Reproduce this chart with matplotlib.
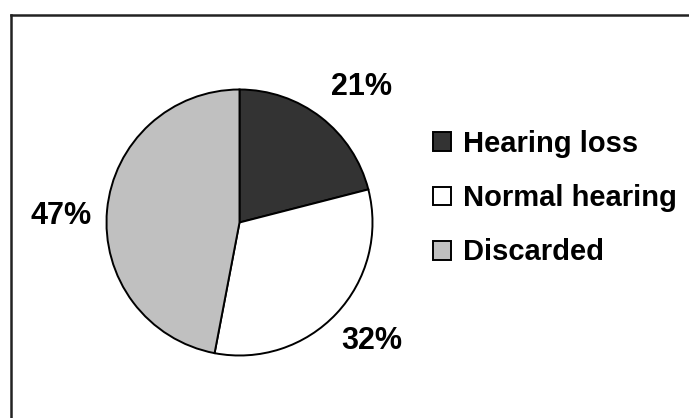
import matplotlib.pyplot as plt
from matplotlib.lines import Line2D

plt.rcParams['font.family'] = ['Liberation Sans', 'DejaVu Sans']

labels = ["Hearing loss", "Normal hearing", "Discarded"]
shares = [21, 32, 47]
colors = ["#333333", "#ffffff", "#c0c0c0"]

W, H = 689, 418
fig = plt.figure(figsize=(W / 100, H / 100), dpi=100)

# frame: only top and left edges show in the original
fig.add_artist(Line2D([10.5 / W, 10.5 / W], [0, 1 - 14.5 / H], transform=fig.transFigure,
                      color="#222222", lw=1.8))
fig.add_artist(Line2D([10.5 / W, 1], [1 - 14.5 / H, 1 - 14.5 / H], transform=fig.transFigure,
                      color="#222222", lw=1.8))

r = 133
cx, cy = 239.5, 222.5
ax = fig.add_axes([(cx - r) / W, (H - cy - r) / H, 2 * r / W, 2 * r / H])
wedges, texts, autotexts = ax.pie(
    shares, colors=colors, startangle=90, counterclock=False,
    autopct="%d%%", pctdistance=1.35,
    wedgeprops=dict(edgecolor="black", linewidth=1.4),
    textprops=dict(fontsize=22, fontweight="bold", color="black"),
)
ax.set_xlim(-1, 1)
ax.set_ylim(-1, 1)
ax.set_aspect("equal")

# percentage labels sit a little off the wedge mid-angle in the original
label_pos = [(0.914, 1.02), (0.996, -0.89), (-1.342, 0.05)]
for t, p in zip(autotexts, label_pos):
    t.set_position(p)
    t.set_clip_on(False)

leg = fig.legend(wedges, labels, loc="upper left", bbox_to_anchor=(433 / W, 1 - 130 / H),
                 frameon=False, prop=dict(size=21, weight="bold"),
                 handlelength=0.62, handleheight=0.62, handletextpad=0.4,
                 labelspacing=0.9, borderpad=0, borderaxespad=0)

fig.savefig("out.png", dpi=100)
